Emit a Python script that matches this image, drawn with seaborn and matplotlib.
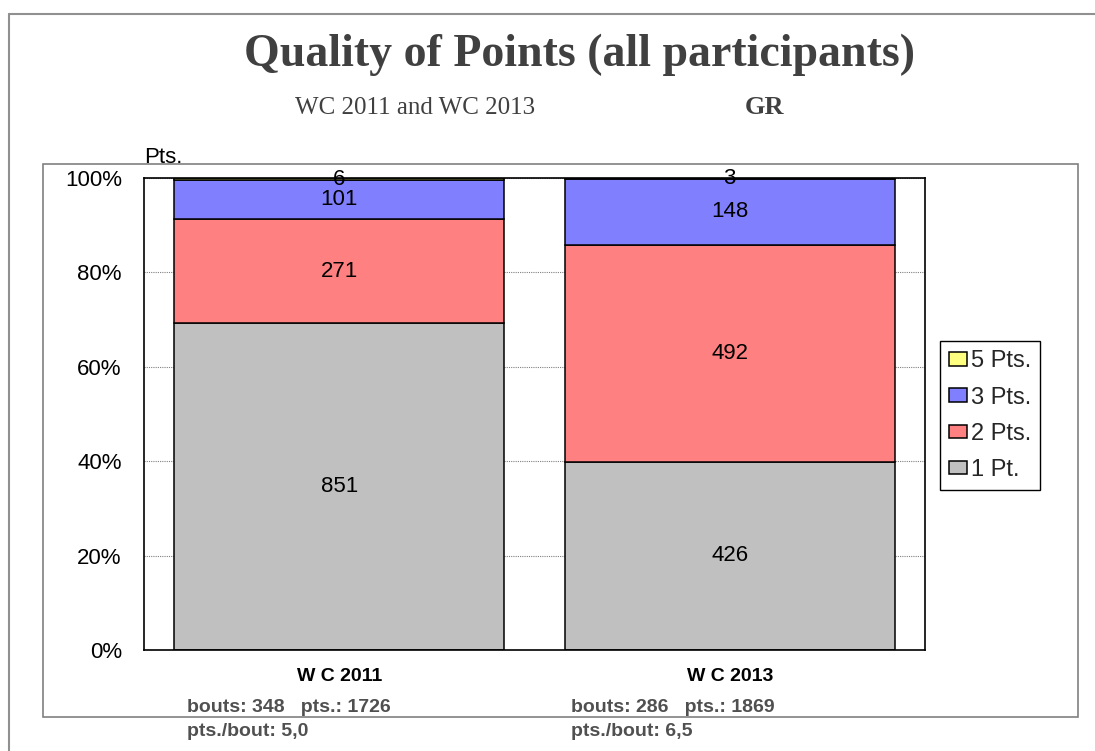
import matplotlib
matplotlib.use("Agg")
import matplotlib.pyplot as plt
from matplotlib.patches import Rectangle
from matplotlib.lines import Line2D
from matplotlib.ticker import PercentFormatter
import seaborn as sns
import pandas as pd

# values
events = ["W C 2011", "W C 2013"]
categories = ["5 Pts.", "3 Pts.", "2 Pts.", "1 Pt."]
counts_2011 = [6, 101, 271, 851]
counts_2013 = [3, 148, 492, 426]
bouts = [348, 286]
points = [1726, 1869]
pts_per_bout = ["5,0", "6,5"]

colors = {"5 Pts.": "#FFFF80", "3 Pts.": "#8080FF",
          "2 Pts.": "#FF8080", "1 Pt.": "#C0C0C0"}

rows = []
for ev, counts in zip(events, [counts_2011, counts_2013]):
    for cat, n in zip(categories, counts):
        rows.append({"event": ev, "category": cat, "count": n})
df = pd.DataFrame(rows)
totals = df.groupby("event", sort=False)["count"].sum().tolist()

W, H = 1095, 751


def px(x, y):
    # pixel position -> figure fraction
    return x / W, 1 - y / H


sns.set_theme(style="white")
plt.rcParams["font.family"] = ["Liberation Sans", "DejaVu Sans"]

fig = plt.figure(figsize=(W / 100, H / 100), dpi=100)
ax = fig.add_axes([144 / W, 1 - 650 / H, 781 / W, 472 / H])

sns.histplot(data=df, x="event", hue="category", weights="count",
             hue_order=categories, palette=colors, multiple="fill",
             discrete=True, shrink=0.846, alpha=1, edgecolor="black",
             linewidth=1.1, ax=ax)

# count labels in the middle of each segment
for cont in ax.containers:
    for p in cont.patches:
        h = p.get_height()
        if h <= 0:
            continue
        idx = int(round(p.get_x() + p.get_width() / 2))
        n = int(round(h * totals[idx]))
        ax.text(p.get_x() + p.get_width() / 2, p.get_y() + h / 2, str(n),
                ha="center", va="center", fontsize=16, color="black")

ax.set_xlim(-0.5, 1.5)
ax.set_ylim(0, 1)
ax.set_yticks([0, 0.2, 0.4, 0.6, 0.8, 1.0])
ax.yaxis.set_major_formatter(PercentFormatter(1.0, decimals=0))
ax.set_xlabel("")
ax.set_ylabel("")
ax.set_axisbelow(True)
ax.yaxis.grid(True, color="#808080", linestyle=(0, (1, 1)), linewidth=0.8)
ax.tick_params(axis="y", length=0, pad=16, labelsize=16, labelcolor="black")
ax.tick_params(axis="x", length=0, pad=13)
for lab in ax.get_xticklabels():
    lab.set_fontweight("bold")
    lab.set_fontsize(14)
    lab.set_color("black")
for s in ax.spines.values():
    s.set_visible(True)
    s.set_color("black")
    s.set_linewidth(1.2)

sns.move_legend(ax, loc="upper left", bbox_to_anchor=px(940, 341),
                bbox_transform=fig.transFigure, title=None, fontsize=17,
                frameon=True, fancybox=False, edgecolor="black",
                framealpha=1, handlelength=0.75, handleheight=0.5,
                handletextpad=0.15, labelspacing=0.6, borderpad=0.4,
                borderaxespad=0)
ax.get_legend().get_frame().set_linewidth(1.0)

fig.text(*px(144, 163), "Pts.", fontsize=16, ha="left", va="baseline",
         color="black")

# titles
fig.text(*px(579, 55), "Quality of Points (all participants)",
         family=["Liberation Serif", "DejaVu Serif"], fontweight="bold",
         fontsize=33, color="#404040", ha="center", va="center")
fig.text(*px(415, 108), "WC 2011 and WC 2013",
         family=["Liberation Serif", "DejaVu Serif"], fontsize=18,
         color="#404040", ha="center", va="center")
fig.text(*px(764, 108), "GR", family=["Liberation Serif", "DejaVu Serif"],
         fontweight="bold", fontsize=19, color="#404040",
         ha="center", va="center")

# stats under each bar
for i, x0 in enumerate([187, 571]):
    fig.text(*px(x0, 708), f"bouts: {bouts[i]}   pts.: {points[i]}",
             fontweight="bold", fontsize=14,
             color="#505050", ha="left", va="center")
    fig.text(*px(x0, 731), f"pts./bout: {pts_per_bout[i]}",
             fontweight="bold", fontsize=14,
             color="#505050", ha="left", va="center")

# frames around chart area
x0, y0 = px(43, 717)
x1, y1 = px(1078, 164)
fig.add_artist(Rectangle((x0, y0), x1 - x0, y1 - y0, transform=fig.transFigure,
                         fill=False, edgecolor="#808080", linewidth=1.2))
fig.add_artist(Line2D([9 / W, 1.0], [1 - 14 / H, 1 - 14 / H],
                      transform=fig.transFigure, color="#909090", linewidth=1.5))
fig.add_artist(Line2D([9 / W, 9 / W], [0, 1 - 14 / H],
                      transform=fig.transFigure, color="#909090", linewidth=1.5))

fig.savefig("out.png", dpi=100)
